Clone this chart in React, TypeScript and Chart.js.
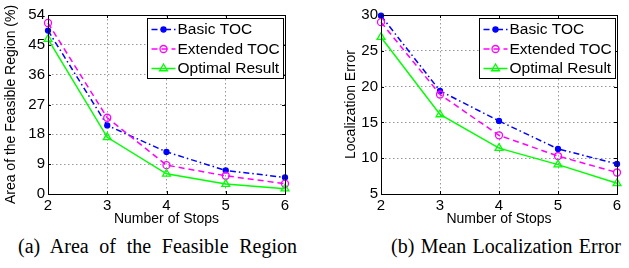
import React, { useEffect, useRef } from "react";
import { Chart, registerables } from "chart.js";

Chart.register(...registerables);

// ---- data ----
const stops = [2, 3, 4, 5, 6];
const seriesNames = ["Basic TOC", "Extended TOC", "Optimal Result"];
const areaBasic = [49.3, 20.7, 12.7, 7.1, 5.0];
const areaExtended = [51.6, 23.0, 8.7, 5.5, 3.1];
const areaOptimal = [46.7, 17.1, 6.1, 3.0, 1.6];
const errBasic = [29.9, 19.4, 15.2, 11.3, 9.2];
const errExtended = [29.0, 18.9, 13.2, 10.3, 8.0];
const errOptimal = [26.9, 16.1, 11.4, 9.1, 6.5];
const xTitle = "Number of Stops";
const yTitleA = "Area of the Feasible Region (%)";
const yTitleB = "Localization Error";
const captionA = "(a) Area of the Feasible Region";
const captionB = "(b) Mean Localization Error";

const SANS = "'Liberation Sans', Arial, Helvetica, sans-serif";
const SERIF = "'Liberation Serif', 'Times New Roman', Times, serif";

const styles = [
  { color: "#0000ff", dash: [6, 3, 1.5, 3], pointStyle: "circle", radius: 2.5, fill: "#0000ff" },
  { color: "#ff00ff", dash: [6, 4], pointStyle: "circle", radius: 3.5, fill: "rgba(0,0,0,0)" },
  { color: "#00ff00", dash: [], pointStyle: "triangle", radius: 4.5, fill: "rgba(0,0,0,0)" },
];

function makeDatasets(values: number[][]) {
  return values.map((vals, i) => ({
    label: seriesNames[i],
    data: stops.map((s, j) => ({ x: s, y: vals[j] })),
    borderColor: styles[i].color,
    backgroundColor: styles[i].fill,
    borderDash: styles[i].dash,
    borderWidth: 1.5,
    pointStyle: styles[i].pointStyle,
    pointRadius: styles[i].radius,
    pointBorderColor: styles[i].color,
    pointBackgroundColor: styles[i].fill,
    pointBorderWidth: 1.3,
    tension: 0,
    clip: false,
    order: 2 - i,
  }));
}

function drawMarker(ctx: CanvasRenderingContext2D, i: number, x: number, y: number) {
  const st = styles[i];
  ctx.save();
  ctx.setLineDash([]);
  ctx.strokeStyle = st.color;
  ctx.fillStyle = st.fill;
  ctx.lineWidth = 1.3;
  ctx.beginPath();
  if (st.pointStyle === "triangle") {
    const r = st.radius;
    ctx.moveTo(x, y - r);
    ctx.lineTo(x + r * 0.866, y + r * 0.5);
    ctx.lineTo(x - r * 0.866, y + r * 0.5);
    ctx.closePath();
  } else {
    ctx.arc(x, y, st.radius, 0, Math.PI * 2);
  }
  ctx.fill();
  ctx.stroke();
  ctx.restore();
}

const framePlugin = {
  id: "matlabFrame",
  afterDraw(chart: any) {
    const ctx: CanvasRenderingContext2D = chart.ctx;
    const ca = chart.chartArea;
    ctx.save();
    // frame
    ctx.strokeStyle = "#000";
    ctx.lineWidth = 1;
    ctx.setLineDash([]);
    ctx.strokeRect(Math.round(ca.left) + 0.5, Math.round(ca.top) + 0.5, Math.round(ca.right - ca.left), Math.round(ca.bottom - ca.top));
    // inward ticks
    const xs = chart.scales.x;
    const ys = chart.scales.y;
    ctx.beginPath();
    xs.ticks.forEach((t: any) => {
      const px = Math.round(xs.getPixelForValue(t.value)) + 0.5;
      ctx.moveTo(px, ca.bottom);
      ctx.lineTo(px, ca.bottom - 3);
      ctx.moveTo(px, ca.top);
      ctx.lineTo(px, ca.top + 3);
    });
    ys.ticks.forEach((t: any) => {
      const py = Math.round(ys.getPixelForValue(t.value)) + 0.5;
      ctx.moveTo(ca.left, py);
      ctx.lineTo(ca.left + 3, py);
      ctx.moveTo(ca.right, py);
      ctx.lineTo(ca.right - 3, py);
    });
    ctx.stroke();

    // legend
    ctx.font = "15.5px " + SANS;
    const maxW = Math.max(...seriesNames.map((n) => ctx.measureText(n).width));
    const boxRight = Math.round(ca.right) - 1.5;
    const boxW = Math.round(maxW + 34);
    const boxLeft = boxRight - boxW;
    const boxTop = Math.round(ca.top) + 3.5;
    const boxH = 60;
    ctx.fillStyle = "#fff";
    ctx.fillRect(boxLeft, boxTop, boxW, boxH);
    ctx.strokeStyle = "#000";
    ctx.lineWidth = 1;
    ctx.strokeRect(boxLeft, boxTop, boxW, boxH);
    seriesNames.forEach((name, i) => {
      const cy = boxTop + 11 + i * 19.5;
      ctx.save();
      ctx.strokeStyle = styles[i].color;
      ctx.lineWidth = 1.5;
      ctx.setLineDash(styles[i].dash);
      ctx.beginPath();
      ctx.moveTo(boxLeft + 4, cy);
      ctx.lineTo(boxLeft + 28, cy);
      ctx.stroke();
      ctx.restore();
      drawMarker(ctx, i, boxLeft + 16, cy);
      ctx.fillStyle = "#000";
      ctx.textBaseline = "middle";
      ctx.textAlign = "left";
      ctx.fillText(name, boxLeft + 30, cy + 0.5);
    });
    ctx.restore();
  },
};

type Props = {
  left: number;
  width: number;
  height: number;
  values: number[][];
  yTitle: string;
  yMin: number;
  yMax: number;
  yStep: number;
  yAxisWidth: number;
  yTitlePad: number;
  rightPad: number;
};

function LineChart(p: Props) {
  const ref = useRef<HTMLCanvasElement>(null);
  useEffect(() => {
    const tickFont = { family: SANS, size: 15 };
    const titleFont = { family: SANS, size: 14 };
    const chart = new Chart(ref.current as HTMLCanvasElement, {
      type: "line",
      data: { datasets: makeDatasets(p.values) as any },
      options: {
        responsive: false,
        animation: false,
        devicePixelRatio: 1,
        layout: { padding: { left: 0, top: 15, right: p.rightPad, bottom: 0 } },
        plugins: { legend: { display: false }, tooltip: { enabled: false } },
        scales: {
          x: {
            type: "linear",
            min: 2,
            max: 6,
            ticks: { stepSize: 1, padding: 3, color: "#000", font: tickFont },
            grid: { color: "#999", drawTicks: false, lineWidth: 1 },
            border: { display: false, dash: [1.5, 2.5] },
            title: { display: true, text: xTitle, color: "#000", font: titleFont, padding: { top: 0, bottom: 4 } },
            afterFit: (s: any) => {
              s.height = p.height - 194;
            },
          },
          y: {
            type: "linear",
            min: p.yMin,
            max: p.yMax,
            ticks: { stepSize: p.yStep, padding: 3, color: "#000", font: tickFont },
            grid: { color: "#999", drawTicks: false, lineWidth: 1 },
            border: { display: false, dash: [1.5, 2.5] },
            title: { display: true, text: p.yTitle, color: "#000", font: titleFont, padding: { top: p.yTitlePad, bottom: 0 } },
            afterFit: (s: any) => {
              s.width = p.yAxisWidth;
            },
          },
        },
      } as any,
      plugins: [framePlugin],
    });
    return () => chart.destroy();
  }, []);
  return (
    <canvas
      ref={ref}
      width={p.width}
      height={p.height}
      style={{ position: "absolute", left: p.left, top: 0, width: p.width, height: p.height, display: "block" }}
    />
  );
}

export default function App() {
  const capStyle: React.CSSProperties = {
    position: "absolute",
    top: 234,
    fontFamily: SERIF,
    fontSize: 20,
    lineHeight: "24px",
    textAlign: "justify",
    textAlignLast: "justify",
    whiteSpace: "normal",
    color: "#000",
  };
  return (
    <div style={{ position: "fixed", left: 0, top: 0, width: 629, height: 268, background: "#fff", overflow: "hidden" }}>
      <LineChart
        left={0}
        width={310}
        height={232}
        values={[areaBasic, areaExtended, areaOptimal]}
        yTitle={yTitleA}
        yMin={0}
        yMax={54}
        yStep={9}
        yAxisWidth={48}
        yTitlePad={3}
        rightPad={25}
      />
      <LineChart
        left={320}
        width={309}
        height={232}
        values={[errBasic, errExtended, errOptimal]}
        yTitle={yTitleB}
        yMin={5}
        yMax={30}
        yStep={5}
        yAxisWidth={61}
        yTitlePad={23}
        rightPad={12}
      />
      <div style={{ ...capStyle, left: 18, width: 279 }}>{captionA}</div>
      <div style={{ ...capStyle, left: 391, width: 230 }}>{captionB}</div>
    </div>
  );
}
